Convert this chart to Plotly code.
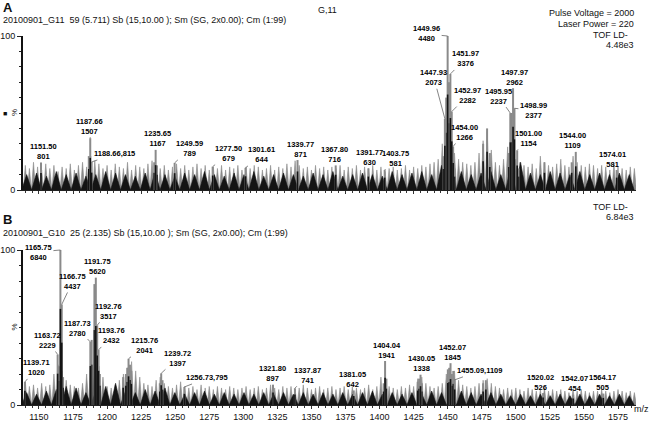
import numpy as np
import plotly.graph_objects as go

# ---------------- data ----------------
# Panel A (G11) labelled peaks: m/z and intensity (counts); full scale 4.48e3
a_full_scale = 4480
a_peak_mz = [1151.50, 1187.66, 1188.66, 1235.65, 1249.59, 1277.50, 1301.61, 1339.77,
             1367.80, 1391.77, 1403.75, 1447.93, 1449.96, 1451.97, 1452.97, 1454.00,
             1495.95, 1497.97, 1498.99, 1501.00, 1544.00, 1574.01]
a_peak_int = [801, 1507, 815, 1167, 789, 679, 644, 871,
              716, 630, 581, 2073, 4480, 3376, 2282, 1266,
              2237, 2962, 2377, 1154, 1109, 581]
# unlabelled signals in panel A (% of full scale)
a_minor_mz = [1186.6, 1234.6, 1236.6, 1446.9, 1448.9, 1450.9, 1455.0, 1476.0, 1478.9,
              1480.9, 1494.9, 1496.9, 1502.0, 1521.0, 1541.0]
a_minor_pct = [22, 18, 16, 22, 60, 70, 14, 30, 40, 24, 24, 50, 14, 18, 18]
# noise spikes in panel A (% , every 3 m/z from 1140)
a_noise = [16, 14, 18, 15, 13, 17, 14, 16, 12, 15,
           14, 17, 13, 16, 18, 15, 22, 19, 17, 14,
           16, 13, 17, 15, 14, 18, 13, 16, 15, 14,
           17, 19, 15, 14, 16, 13, 15, 17, 14, 16,
           13, 15, 17, 14, 16, 13, 15, 14, 16, 13,
           15, 14, 16, 13, 15, 14, 16, 15, 13, 14,
           16, 13, 15, 14, 17, 15, 19, 16, 14, 15,
           13, 16, 14, 15, 13, 15, 14, 16, 13, 15,
           14, 16, 13, 15, 14, 16, 13, 15, 12, 14,
           15, 13, 14, 16, 13, 15, 14, 16, 15, 17,
           18, 20, 30, 22, 28, 24, 20, 18, 17, 16,
           18, 24, 32, 38, 26, 18, 16, 20, 28, 30,
           20, 18, 16, 15, 17, 14, 22, 18, 16, 15,
           17, 20, 16, 15, 22, 18, 16, 15, 17, 16,
           14, 16, 15, 13, 17, 15, 14, 13, 15, 14]
# dark baseline envelope in panel A (% , every 7.25 m/z from 1141)
a_base = [10, 11, 9, 12, 10, 11, 9, 10, 12, 11,
          10, 9, 11, 12, 10, 9, 11, 10, 12, 10,
          9, 11, 10, 12, 9, 10, 11, 10, 9, 11,
          10, 12, 9, 10, 11, 10, 9, 12, 10, 11,
          12, 10, 16, 18, 12, 10, 11, 12, 10, 16,
          18, 11, 10, 12, 11, 10, 12, 10, 11, 10,
          11, 10]

# Panel B (G10) labelled peaks; full scale 6.84e3
b_full_scale = 6840
b_peak_mz = [1139.71, 1163.72, 1165.75, 1166.75, 1187.73, 1191.75, 1192.76, 1193.76,
             1215.76, 1239.72, 1256.73, 1321.80, 1337.87, 1381.05, 1404.04, 1430.05,
             1452.07, 1455.09, 1520.02, 1542.07, 1564.17]
b_peak_int = [1020, 2229, 6840, 4437, 2780, 5620, 3517, 2432,
              2041, 1397, 795, 897, 741, 642, 1941, 1338,
              1845, 1109, 526, 454, 505]
b_minor_mz = [1164.7, 1167.7, 1188.7, 1190.7, 1194.7, 1211.8, 1213.8, 1214.8, 1216.8,
              1217.8, 1238.7, 1240.7, 1403.0, 1405.0, 1428.0, 1429.0, 1431.0, 1450.1,
              1451.1, 1453.1, 1454.1, 1476.0, 1478.0]
b_minor_pct = [25, 18, 42, 78, 20, 18, 20, 24, 26, 22, 14, 16, 14, 17, 15, 17, 14, 23,
               24, 20, 22, 14, 16]
b_noise = [15, 12, 13, 11, 14, 12, 13, 20, 26, 22,
           16, 13, 12, 11, 14, 20, 28, 30, 25, 18,
           12, 11, 13, 16, 20, 24, 28, 22, 18, 14,
           13, 12, 16, 18, 14, 12, 11, 13, 15, 12,
           11, 12, 10, 13, 11, 12, 10, 12, 11, 10,
           12, 11, 10, 11, 12, 10, 11, 12, 10, 11,
           13, 11, 10, 12, 11, 12, 10, 11, 13, 11,
           10, 11, 12, 10, 11, 12, 10, 11, 12, 10,
           12, 11, 10, 11, 13, 10, 12, 18, 16, 12,
           11, 10, 12, 11, 13, 12, 17, 18, 14, 12,
           11, 12, 14, 20, 24, 22, 16, 13, 12, 11,
           12, 14, 16, 17, 14, 12, 11, 10, 11, 10,
           11, 10, 9, 11, 10, 9, 10, 11, 9, 10,
           9, 10, 9, 8, 10, 9, 10, 9, 8, 9,
           9, 10, 9, 8, 9, 10, 9, 8, 9, 8]
b_base = [8, 7, 9, 10, 12, 11, 8, 9, 12, 14,
          9, 8, 10, 9, 11, 8, 7, 8, 9, 7,
          8, 7, 8, 7, 8, 7, 8, 7, 8, 7,
          8, 7, 8, 7, 8, 9, 7, 8, 7, 8,
          7, 9, 8, 7, 9, 8, 7, 8, 7, 6,
          7, 6, 7, 6, 7, 6, 7, 6, 7, 6,
          7, 6]

x_tick_labels = ["1150", "1175", "1200", "1225", "1250", "1275", "1300", "1325", "1350",
                 "1375", "1400", "1425", "1450", "1475", "1500", "1525", "1550", "1575"]

# ---------------- style / layout helpers ----------------
NOISE_START, NOISE_STEP = 1140.0, 3.0
BASE_START, BASE_STEP = 1141.0, 7.25
XR = [1138.3, 1588.2]
W, H = 654, 421
A_TOP, A_BOT = 36, 190
B_TOP, B_BOT = 250, 405
GREY = "#8a8a8a"
DARK = "#141414"
LABEL_FONT = dict(family="Liberation Sans, Arial", size=7.5, color="#000", weight="bold")
TXT_FONT = dict(family="Liberation Sans, Arial", size=9, color="#111")

a_inline = [False, False, True] + [False] * 19
a_offsets = [(3, -11), (-1, -12), (23, -8), (2, -11), (15, -14), (16, -13), (16, -13), (3, -11),
             (-1, -11), (1, -11), (11, -12), (-11, -41), (-21, -2), (15, -15), (16, -16), (11, -14),
             (-12, -17), (1, -11), (19, 2), (11, -12), (-3, -11), (-4, -11)]
b_inline = [False] * 10 + [True] + [False] * 6 + [True] + [False] * 3
b_offsets = [(12, -14), (-10, -14), (-22, 2), (11, -23), (-13, -14), (2, -11), (11, -14), (13, -14),
             (16, -13), (16, -15), (23, -9), (-1, -11), (13, -13), (-1, -11), (2, -11), (1, -11),
             (2, -11), (25, -9), (-3, -11), (1, -11), (-1, -11)]


def sawtooth(start, step, heights):
    centers = start + step * np.arange(len(heights))
    half = step / 2.0
    xs, ys = [centers[0] - half], [0]
    for c, h in zip(centers, heights):
        xs += [c, c + half]
        ys += [h, 0]
    return xs, ys


def sticks(mz, pct, frac=1.0):
    xs, ys = [], []
    for m, p in zip(mz, pct):
        xs += [m, m, None]
        ys += [0, p * frac, None]
    return xs, ys


fig = go.Figure()


def add_panel(xa, ya, noise, base, pk_mz, pk_int, full, mn_mz, mn_pct):
    pk_pct = [v / full * 100 for v in pk_int]
    x, y = sawtooth(NOISE_START, NOISE_STEP, noise)
    fig.add_trace(go.Scatter(x=x, y=y, mode="lines", fill="tozeroy", fillcolor=GREY,
                             line=dict(color=GREY, width=0.6), xaxis=xa, yaxis=ya, hoverinfo="skip"))
    x, y = sawtooth(BASE_START, BASE_STEP, base)
    fig.add_trace(go.Scatter(x=x, y=y, mode="lines", fill="tozeroy", fillcolor=DARK,
                             line=dict(color=DARK, width=0.6), xaxis=xa, yaxis=ya, hoverinfo="skip"))
    for mz, pct in ((mn_mz, mn_pct), (pk_mz, pk_pct)):
        x, y = sticks(mz, pct)
        fig.add_trace(go.Scatter(x=x, y=y, mode="lines", line=dict(color=GREY, width=2),
                                 xaxis=xa, yaxis=ya, hoverinfo="skip"))
        x, y = sticks(mz, pct, 0.62)
        fig.add_trace(go.Scatter(x=x, y=y, mode="lines", line=dict(color=DARK, width=1.6),
                                 xaxis=xa, yaxis=ya, hoverinfo="skip"))
    return pk_pct


a_pct = add_panel("x", "y", a_noise, a_base, a_peak_mz, a_peak_int, a_full_scale, a_minor_mz, a_minor_pct)
b_pct = add_panel("x2", "y2", b_noise, b_base, b_peak_mz, b_peak_int, b_full_scale, b_minor_mz, b_minor_pct)

annotations = []


def peak_labels(xr, yr, mz, ints, pct, inline, offsets):
    for m, v, p, il, (ax, ay) in zip(mz, ints, pct, inline, offsets):
        txt = f"{m:.2f},{v}" if il else f"{m:.2f}<br>{v}"
        annotations.append(dict(x=m, y=p, xref=xr, yref=yr, text=txt, showarrow=True,
                                arrowhead=0, arrowwidth=0.8, arrowcolor="#666", ax=ax, ay=ay,
                                standoff=0, font=LABEL_FONT, align="center"))


peak_labels("x", "y", a_peak_mz, a_peak_int, a_pct, a_inline, a_offsets)
peak_labels("x2", "y2", b_peak_mz, b_peak_int, b_pct, b_inline, b_offsets)


def ptext(px, py, text, size=9, xanchor="left", bold=False, angle=0, family="Liberation Sans, Arial"):
    annotations.append(dict(x=px / W, y=1 - py / H, xref="paper", yref="paper", text=text,
                            showarrow=False, xanchor=xanchor, yanchor="middle", textangle=angle,
                            font=dict(family=family, size=size, color="#111",
                                      weight="bold" if bold else "normal")))


ptext(1, 8, "A", size=13, bold=True)
ptext(1, 20, "20100901_G11  59 (5.711) Sb (15,10.00 ); Sm (SG, 2x0.00); Cm (1:99)", size=9)
ptext(327, 10, "G,11", size=9, xanchor="center")
ptext(636, 13, "Pulse Voltage = 2000", xanchor="right")
ptext(636, 24, "Laser Power = 220", xanchor="right")
ptext(630, 35, "TOF LD-", xanchor="right")
ptext(636, 45, "4.48e3", xanchor="right")
ptext(14, (A_TOP + A_BOT) / 2, "%", size=8, xanchor="center", angle=-90)
ptext(5, (A_TOP + A_BOT) / 2, "■", size=7, xanchor="center")

ptext(1, 220, "B", size=13, bold=True)
ptext(1, 233, "20100901_G10  25 (2.135) Sb (15,10.00 ); Sm (SG, 2x0.00); Cm (1:99)", size=9)
ptext(630, 207, "TOF LD-", xanchor="right")
ptext(636, 217, "6.84e3", xanchor="right")
ptext(14, (B_TOP + B_BOT) / 2, "%", size=8, xanchor="center", angle=-90)
ptext(641, 409, "m/z", size=9, xanchor="center")

xdom = [23 / W, 636 / W]
common_x = dict(range=XR, domain=xdom, showgrid=False, zeroline=False, showline=True,
                linecolor="#222", linewidth=1, ticks="outside", tickmode="linear", tick0=1150,
                dtick=25, ticklen=3, tickcolor="#333", tickwidth=1, automargin=False,
                minor=dict(ticks="outside", tickmode="linear", tick0=1150, dtick=5, ticklen=2,
                           tickcolor="#333"))
common_y = dict(range=[0, 100], showgrid=False, zeroline=False, showline=True, linecolor="#111",
                linewidth=2, ticks="outside", tickmode="array", tickvals=[0, 100],
                ticktext=["0", "100"], ticklen=4, tickcolor="#222", tickfont=TXT_FONT,
                automargin=False,
                minor=dict(ticks="outside", tickmode="linear", tick0=0, dtick=10, ticklen=2,
                           tickcolor="#222"))

fig.update_layout(
    width=W, height=H, margin=dict(l=0, r=0, t=0, b=0, autoexpand=False), showlegend=False,
    paper_bgcolor="white", plot_bgcolor="white",
    xaxis=dict(common_x, anchor="y", showticklabels=False),
    yaxis=dict(common_y, anchor="x", domain=[1 - A_BOT / H, 1 - A_TOP / H]),
    xaxis2=dict(common_x, anchor="y2", tickfont=TXT_FONT, tickmode="array",
                tickvals=[float(t) for t in x_tick_labels], ticktext=x_tick_labels),
    yaxis2=dict(common_y, anchor="x2", domain=[1 - B_BOT / H, 1 - B_TOP / H]),
    annotations=annotations,
)

fig.write_html("out.html", config={"displayModeBar": False},
               post_script="document.body.style.margin='0';document.body.style.overflow='hidden';")
